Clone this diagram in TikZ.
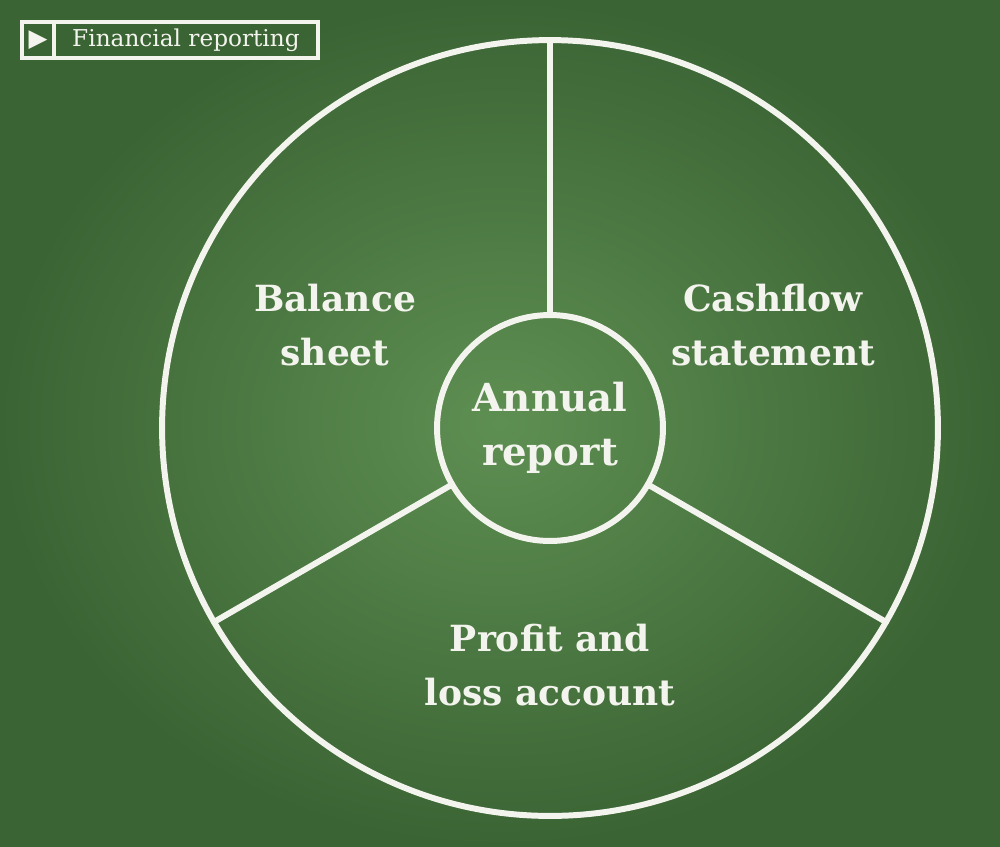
\documentclass[tikz,border=0pt]{standalone}
\usepackage{fontspec}
\setmainfont{DejaVu Serif}
\newfontfamily\symfont{DejaVu Sans}
\usetikzlibrary{positioning}
\definecolor{Board}{HTML}{3B6434}
\definecolor{BoardLight}{HTML}{5E8F52}
\definecolor{Chalk}{HTML}{F4F4EE}

\begin{document}
\begin{tikzpicture}[x=0.02cm,y=-0.02cm,
 chalk/.style={draw=Chalk,line width=3.4pt,line cap=round},
 ring/.style={chalk,circle,inner sep=0pt,outer sep=0pt},
 label/.style={text=Chalk,align=center,font=\bfseries\fontsize{20.5}{31}\selectfont},
 tag/.style={draw=Chalk,line width=2pt,minimum height=0.72cm,inner sep=0pt,outer sep=0pt,
   text=Chalk,font=\fontsize{13.2}{15}\selectfont}]
\useasboundingbox (0,0) rectangle (1000,846);
\shade[inner color=BoardLight,outer color=Board] (0,0) rectangle (1000,846);
\node[ring,minimum size=15.52cm] (outer) at (550,428) {};
\node[ring,minimum size=4.52cm,label,font=\bfseries\fontsize{22}{31}\selectfont] (hub) at (550,428) {Annual\\report};
\draw[chalk] (hub.90)--(outer.90);
\draw[chalk] (hub.210)--(outer.210);
\draw[chalk] (hub.330)--(outer.330);
\node[label] (balance) at (335,325) {Balance\\sheet};
\node[label] (cash) at (773,325) {Cashflow\\statement};
\node[label] (profit) at (550,665) {Profit and\\loss account};
\node[tag,anchor=west,minimum width=5.28cm] (title) at (54,40) {Financial reporting};
\node[tag,left=0pt of title,minimum width=0.64cm,font=\symfont\fontsize{14}{15}\selectfont] (play) {▶};
\end{tikzpicture}
\end{document}
